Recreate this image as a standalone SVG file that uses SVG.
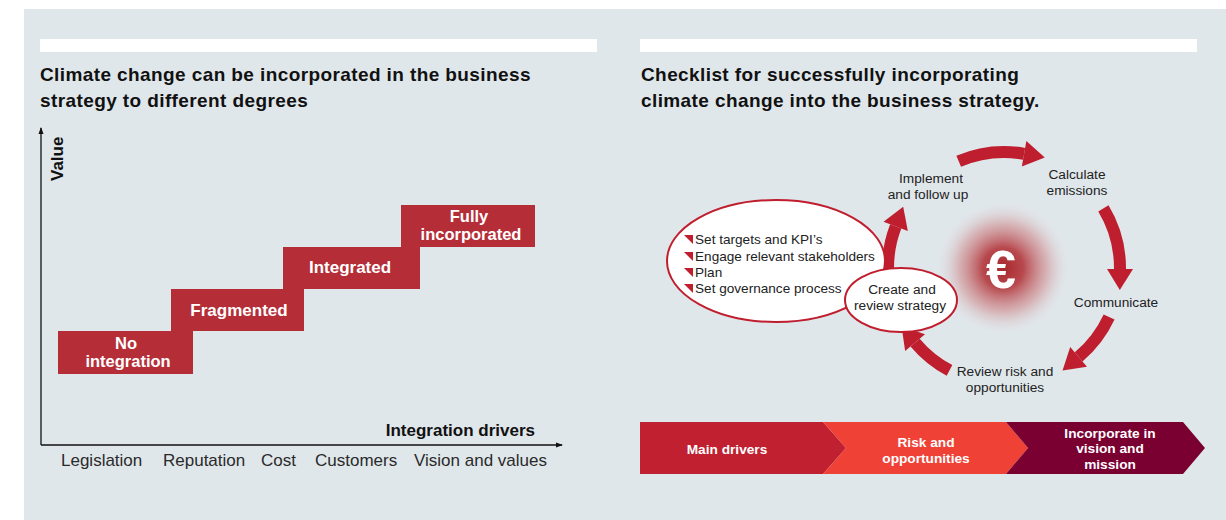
<svg xmlns="http://www.w3.org/2000/svg" width="1226" height="520" viewBox="0 0 1226 520">
  <defs>
    <style>
      .title { font-family: "Liberation Sans", Arial, sans-serif; font-weight: bold; font-size: 19px; letter-spacing: 0.4px; fill: #111; }
      .step { fill: #b52d37; }
      .step-txt { font-family: "Liberation Sans", Arial, sans-serif; font-weight: bold; font-size: 17px; fill: #fff; text-anchor: middle; }
      .step-txt2 { font-family: "Liberation Sans", Arial, sans-serif; font-weight: bold; font-size: 16.5px; fill: #fff; text-anchor: middle; }
      .axis { stroke: #111; stroke-width: 1.3; fill: none; }
      .axis-lbl { font-family: "Liberation Sans", Arial, sans-serif; font-weight: bold; font-size: 17px; fill: #111; }
      .tick { font-family: "Liberation Sans", Arial, sans-serif; font-size: 17px; fill: #2a2a2a; }
      .lbl { font-family: "Liberation Sans", Arial, sans-serif; font-size: 13.7px; fill: #222; text-anchor: middle; }
      .bullet-txt { font-family: "Liberation Sans", Arial, sans-serif; font-size: 13.6px; fill: #222; }
      .bullet { fill: #c01e2e; }
      .bubble { fill: #fff; stroke: #c01e2e; stroke-width: 2; }
      .cycle { fill: none; stroke: #be1e2d; stroke-width: 12; }
      .chev-txt { font-family: "Liberation Sans", Arial, sans-serif; font-weight: bold; font-size: 13.7px; fill: #fff; text-anchor: middle; }
    </style>
    <marker id="head" markerUnits="userSpaceOnUse" markerWidth="22" markerHeight="28" refX="0" refY="14" orient="auto" overflow="visible">
      <path d="M0,1 L21,14 L0,27 Z" fill="#be1e2d"/>
    </marker>
    <marker id="axhead" markerUnits="userSpaceOnUse" markerWidth="8" markerHeight="8" refX="6" refY="4" orient="auto">
      <path d="M0,1.5 L7,4 L0,6.5 Z" fill="#111"/>
    </marker>
    <radialGradient id="glow" cx="0.5" cy="0.5" r="0.5">
      <stop offset="0" stop-color="#a8262c" stop-opacity="1"/>
      <stop offset="0.3" stop-color="#b3373c" stop-opacity="0.9"/>
      <stop offset="0.65" stop-color="#cd8082" stop-opacity="0.5"/>
      <stop offset="1" stop-color="#e0e7eb" stop-opacity="0"/>
    </radialGradient>
  </defs>

  <!-- page panel -->
  <rect x="24" y="9" width="1202" height="511" fill="#e0e7eb"/>
  <rect x="40" y="39" width="557" height="13" fill="#fff"/>
  <rect x="640" y="39" width="557" height="13" fill="#fff"/>

  <!-- left: staircase chart -->
  <g id="left-title">
    <text class="title" x="40" y="81">Climate change can be incorporated in the business</text>
    <text class="title" x="40" y="107">strategy to different degrees</text>
  </g>

  <g id="axes">
    <path class="axis" d="M41,445 L41,128" marker-end="url(#axhead)"/>
    <path class="axis" d="M41,445 L562,445" marker-end="url(#axhead)"/>
    <text class="axis-lbl" transform="translate(63,181) rotate(-90)">Value</text>
    <text class="axis-lbl" x="535" y="436" text-anchor="end">Integration drivers</text>
    <text class="tick" x="61" y="466">Legislation</text>
    <text class="tick" x="163" y="466">Reputation</text>
    <text class="tick" x="261" y="466">Cost</text>
    <text class="tick" x="315" y="466">Customers</text>
    <text class="tick" x="414" y="466">Vision and values</text>
  </g>

  <g id="step-no-integration">
    <rect class="step" x="58" y="331" width="135" height="43"/>
    <text class="step-txt2" x="126" y="349">No</text>
    <text class="step-txt2" x="128" y="367">integration</text>
  </g>
  <g id="step-fragmented">
    <rect class="step" x="171" y="289" width="133" height="42"/>
    <text class="step-txt" x="239" y="316">Fragmented</text>
  </g>
  <g id="step-integrated">
    <rect class="step" x="283" y="247" width="137" height="42"/>
    <text class="step-txt" x="350" y="273">Integrated</text>
  </g>
  <g id="step-fully">
    <rect class="step" x="401" y="205" width="134" height="42"/>
    <text class="step-txt2" x="469" y="222">Fully</text>
    <text class="step-txt2" x="471" y="240">incorporated</text>
  </g>

  <!-- right: checklist cycle -->
  <g id="right-title">
    <text class="title" x="641" y="81">Checklist for successfully incorporating</text>
    <text class="title" x="641" y="107">climate change into the business strategy.</text>
  </g>

  <g id="euro">
    <circle cx="1003" cy="268" r="68" fill="url(#glow)"/>
    <text x="1001" y="288" font-family="Liberation Sans, Arial, sans-serif" font-weight="bold" font-size="54" fill="#fff" text-anchor="middle">€</text>
  </g>

  <g id="connectors">
    <path class="cycle" d="M888.1,272 A116,116 0 0 1 895.7,226.4" marker-end="url(#head)"/>
    <path class="cycle" d="M958.7,161.2 A116,116 0 0 1 1024.1,153.8" marker-end="url(#head)"/>
    <path class="cycle" d="M1103.4,208.3 A116,116 0 0 1 1120,269" marker-end="url(#head)"/>
    <path class="cycle" d="M1109.1,317 A116,116 0 0 1 1078.6,356.9" marker-end="url(#head)"/>
    <path class="cycle" d="M949.5,370.4 A116,116 0 0 1 915.1,342.6" marker-end="url(#head)"/>
  </g>

  <g id="checklist">
    <ellipse class="bubble" cx="776" cy="261" rx="109" ry="61"/>
    <path class="bullet" d="M684,235 L693,235 L693,244 Z"/>
    <text class="bullet-txt" x="695" y="244">Set targets and KPI’s</text>
    <path class="bullet" d="M684,252 L693,252 L693,261 Z"/>
    <text class="bullet-txt" x="695" y="261">Engage relevant stakeholders</text>
    <path class="bullet" d="M684,268 L693,268 L693,277 Z"/>
    <text class="bullet-txt" x="695" y="277">Plan</text>
    <path class="bullet" d="M684,284 L693,284 L693,293 Z"/>
    <text class="bullet-txt" x="695" y="293">Set governance process</text>
  </g>

  <g id="create-strategy">
    <ellipse class="bubble" cx="901" cy="300" rx="56" ry="32"/>
    <text class="lbl" x="902" y="294">Create and</text>
    <text class="lbl" x="900" y="310">review strategy</text>
  </g>
  <g id="implement">
    <text class="lbl" x="931" y="183">Implement</text>
    <text class="lbl" x="928" y="199">and follow up</text>
  </g>
  <g id="calculate">
    <text class="lbl" x="1077" y="179">Calculate</text>
    <text class="lbl" x="1077" y="195">emissions</text>
  </g>
  <g id="communicate">
    <text class="lbl" x="1116" y="307">Communicate</text>
  </g>
  <g id="review-risk">
    <text class="lbl" x="1005" y="376">Review risk and</text>
    <text class="lbl" x="1005" y="392">opportunities</text>
  </g>

  <!-- bottom chevron bar -->
  <g id="chev-main">
    <polygon points="640,422 823,422 846,448 823,474 640,474" fill="#c0202f"/>
    <text class="chev-txt" x="727" y="454">Main drivers</text>
  </g>
  <g id="chev-risk">
    <polygon points="823,422 1006,422 1028,448 1006,474 823,474 846,448" fill="#ef4136"/>
    <text class="chev-txt" x="926" y="447">Risk and</text>
    <text class="chev-txt" x="926" y="463">opportunities</text>
  </g>
  <g id="chev-incorporate">
    <polygon points="1006,422 1183,422 1205,448 1183,474 1006,474 1028,448" fill="#7a0032"/>
    <text class="chev-txt" x="1110" y="438">Incorporate in</text>
    <text class="chev-txt" x="1110" y="453">vision and</text>
    <text class="chev-txt" x="1110" y="469">mission</text>
  </g>
</svg>
